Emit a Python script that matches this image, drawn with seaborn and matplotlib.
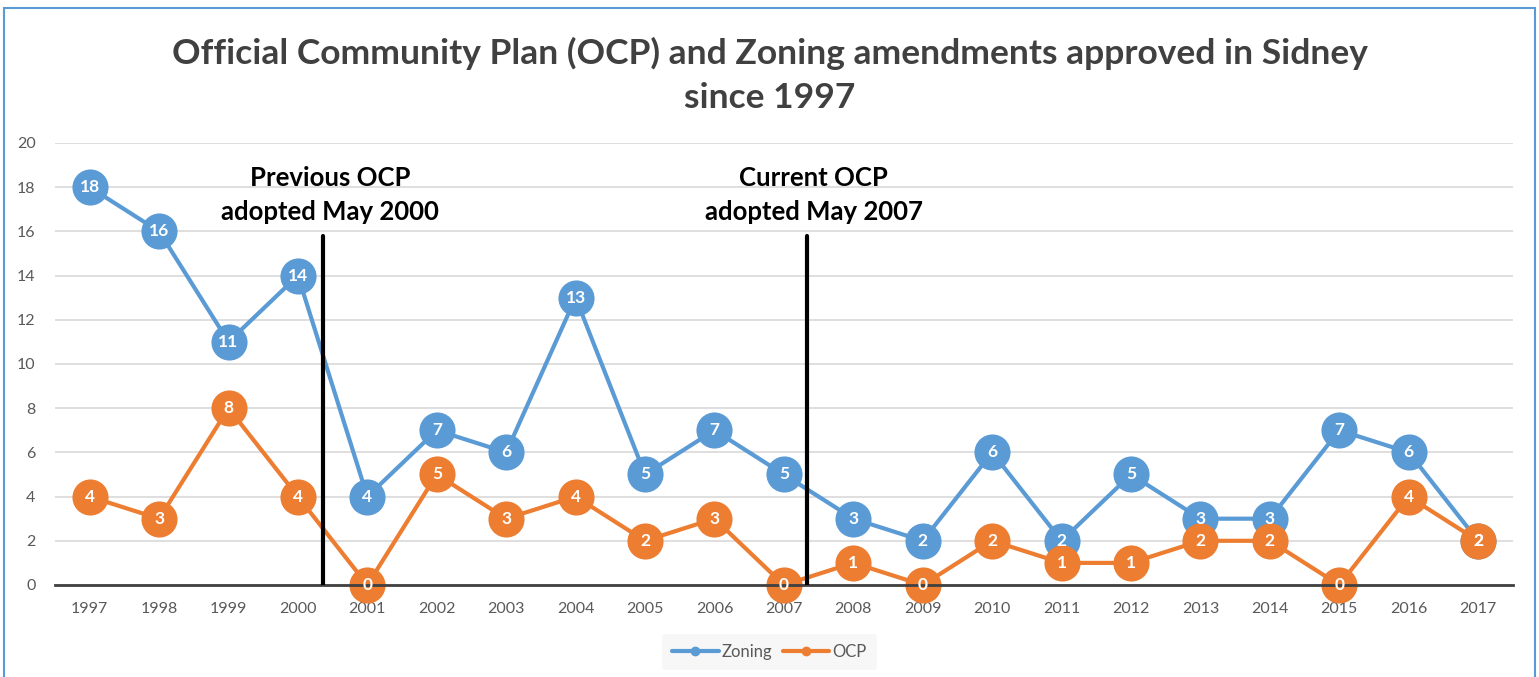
import pandas as pd
import numpy as np
import matplotlib.pyplot as plt
import matplotlib.patches as patches
import seaborn as sns

# Dados
anos = list(range(1997, 2018))
zoning = [18, 16, 11, 14, 4, 7, 6, 13, 5, 7, 5, 3, 2, 6, 2, 5, 3, 3, 7, 6, 2]
ocp = [4, 3, 8, 4, 0, 5, 3, 4, 2, 3, 0, 1, 0, 2, 1, 1, 2, 2, 0, 4, 2]
series = ['Zoning', 'OCP']
cores = ['#5B9BD5', '#ED7D31']
marcos = [2000.36, 2007.33]
marco_topo = 15.8
marco_textos = ['Previous OCP\nadopted May 2000', 'Current OCP\nadopted May 2007']

df = pd.DataFrame({'Ano': anos * 2,
                   'Valor': zoning + ocp,
                   'Serie': ['Zoning'] * len(anos) + ['OCP'] * len(anos)})

sns.set_theme(style='white')
plt.rcParams['font.family'] = ['Lato', 'DejaVu Sans']

fig = plt.figure(figsize=(15.39, 6.77), dpi=100)
ax = fig.add_axes([0.0357, 0.1359, 0.9473, 0.6529])

sns.lineplot(data=df, x='Ano', y='Valor', hue='Serie', hue_order=series,
             palette=cores, marker='o', markersize=26, markeredgewidth=0,
             linewidth=3, ax=ax, legend=False, clip_on=False)

for serie, vals in zip(series, [zoning, ocp]):
    for a, v in zip(anos, vals):
        ax.text(a, v, str(v), color='white', fontsize=12.5, ha='center',
                va='center', fontweight='bold', zorder=5)

for x, txt in zip(marcos, marco_textos):
    ax.plot([x, x], [0, marco_topo], color='black', linewidth=3, zorder=6)
    ax.text(x + 0.1, 17.65, txt, ha='center', va='center', fontsize=18.5,
            fontweight='bold', color='black', linespacing=1.5)

ax.set_xlim(1996.5, 2017.5)
ax.set_ylim(0, 20)
ax.set_xticks(anos)
ax.set_yticks(range(0, 21, 2))
ax.tick_params(axis='both', length=0, labelsize=11.5, labelcolor='#595959')
ax.tick_params(axis='x', pad=12)
ax.tick_params(axis='y', pad=14)
ax.set_xlabel('')
ax.set_ylabel('')
ax.yaxis.grid(True, color='#d9d9d9', linewidth=1.2)
ax.set_axisbelow(True)
for s in ['top', 'right', 'left']:
    ax.spines[s].set_visible(False)
ax.spines['bottom'].set_color('#404040')
ax.spines['bottom'].set_linewidth(2)

fig.text(0.5, 0.889, 'Official Community Plan (OCP) and Zoning amendments approved in Sidney\nsince 1997',
         ha='center', va='center', fontsize=25.5, fontweight='bold', color='#404040',
         linespacing=1.45)

handles = [plt.Line2D([], [], color=c, linewidth=3, marker='o', markersize=6) for c in cores]
leg = fig.legend(handles, series, loc='center', bbox_to_anchor=(0.5, 0.037), ncol=2,
                 frameon=True, fontsize=12, handlelength=2.8, columnspacing=0.6,
                 handletextpad=0.2, borderpad=0.6)
leg.get_frame().set_facecolor('#f5f5f5')
leg.get_frame().set_edgecolor('none')
for t in leg.get_texts():
    t.set_color('#595959')

fig.patches.append(patches.Rectangle((4 / 1539, -0.02), 1531 / 1539, 1.02 - 8 / 677,
                                     transform=fig.transFigure, fill=False,
                                     edgecolor='#5B9BD5', linewidth=1.5))

fig.savefig('out.png', dpi=100)
